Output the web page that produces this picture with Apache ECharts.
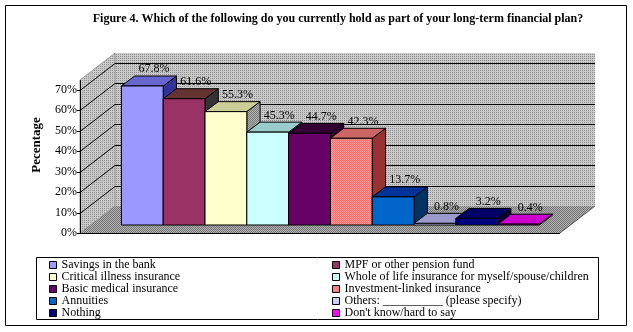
<!DOCTYPE html>
<html>
<head>
<meta charset="utf-8">
<script src="https://cdn.jsdelivr.net/npm/echarts@6/dist/echarts.min.js"></script>
<style>
  html, body { margin: 0; padding: 0; background: #fff; }
  #chart { width: 633px; height: 332px; }
</style>
</head>
<body>
<div id="chart"></div>
<script>
// Survey answers, in bar order
const categories = [
  'Savings in the bank',
  'MPF or other pension fund',
  'Critical illness insurance',
  'Whole of life insurance for myself/spouse/children',
  'Basic medical insurance',
  'Investment-linked insurance',
  'Annuities',
  'Others: __________ (please specify)',
  'Nothing',
  "Don't know/hard to say"
];
// Share of respondents (%)
const values = [67.8, 61.6, 55.3, 45.3, 44.7, 42.3, 13.7, 0.8, 3.2, 0.4];
// Value axis ticks (%)
const yTicks = [0, 10, 20, 30, 40, 50, 60, 70];

const titleText = 'Figure 4. Which of the following do you currently hold as part of your long-term financial plan?';
const yAxisTitle = 'Pecentage';

// Face colours of each 3D column: front, top, right side
const frontColors = ['#9999FF', '#993366', '#FFFFCC', '#CCFFFF', '#660066', '#FF8080', '#0066CC', '#CCCCFF', '#000080', '#FF00FF'];
const topColors   = ['#6666CC', '#663333', '#CCCC99', '#99CCCC', '#330033', '#CC6666', '#003399', '#9999CC', '#000066', '#CC00CC'];
const sideColors  = ['#333399', '#333333', '#999999', '#669999', '#330033', '#993333', '#003366', '#666699', '#000033', '#990099'];

const FONT = '"Liberation Serif", "Times New Roman", serif';

// Pseudo-3D geometry (pixels)
const WALL_DEPTH = [35, -27];   // floor / wall depth offset
const WALL_MARGIN = 31;         // floor overhang beyond the category range
const WALL_TOP = 74.6;          // height of the walls in axis units
const BAR_SHIFT = [10.4, -8];   // columns sit slightly back from the front edge
const BAR_DEPTH = [13.3, -10];  // column depth offset

// Small repeating stipple fills
function stipple(base, dot, checker) {
  const c = document.createElement('canvas');
  c.width = 2; c.height = 2;
  const g = c.getContext('2d');
  g.fillStyle = base; g.fillRect(0, 0, 2, 2);
  g.fillStyle = dot; g.fillRect(0, 0, 1, 1);
  if (checker) g.fillRect(1, 1, 1, 1);
  return { image: c, repeat: 'repeat' };
}
const wallFill = stipple('#CACACA', '#8E8E8E', false);
const floorFill = stipple('#B0B0B0', '#767676', true);
const fillOverrides = {
  front: { 5: stipple('#FF9C9C', '#FF6A6A', true) },
  side: { 2: stipple('#B0B0B0', '#7C7C7C', true) }
};

function renderWalls(params, api) {
  const cs = params.coordSys;
  const y0 = api.coord([0, 0])[1];
  const unit = (y0 - api.coord([0, 70])[1]) / 70;
  const [dx, dy] = WALL_DEPTH;
  const xL = cs.x - WALL_MARGIN;
  const xR = cs.x + cs.width + WALL_MARGIN;
  const yTop = y0 - WALL_TOP * unit;
  const children = [
    { type: 'polygon', shape: { points: [[xL + dx, yTop + dy], [xR + dx, yTop + dy], [xR + dx, y0 + dy], [xL + dx, y0 + dy]] },
      style: { fill: wallFill, stroke: null } },
    { type: 'polygon', shape: { points: [[xL, yTop], [xL + dx, yTop + dy], [xL + dx, y0 + dy], [xL, y0]] },
      style: { fill: wallFill, stroke: '#9A9A9A', lineWidth: 1 } },
    { type: 'polygon', shape: { points: [[xL, y0], [xR, y0], [xR + dx, y0 + dy], [xL + dx, y0 + dy]] },
      style: { fill: floorFill, stroke: null } }
  ];
  yTicks.forEach(v => {
    const y = Math.round(y0 - v * unit) + 0.5;
    if (v > 0) {
      children.push({ type: 'line', shape: { x1: xL + dx, y1: y + dy, x2: xR + dx, y2: y + dy }, style: { stroke: '#000', lineWidth: 1 } });
      children.push({ type: 'line', shape: { x1: xL, y1: y, x2: xL + dx, y2: y + dy }, style: { stroke: '#000', lineWidth: 1 } });
    }
    children.push({ type: 'line', shape: { x1: xL - 3, y1: y, x2: xL, y2: y }, style: { stroke: '#000', lineWidth: 1 } });
  });
  children.push({ type: 'line', shape: { x1: xL + 0.5, y1: yTop, x2: xL + 0.5, y2: y0 }, style: { stroke: '#000', lineWidth: 1 } });
  children.push({ type: 'line', shape: { x1: xL, y1: y0 + 0.5, x2: xR, y2: y0 + 0.5 }, style: { stroke: '#000', lineWidth: 1 } });
  children.push({ type: 'line', shape: { x1: xR, y1: y0, x2: xR + dx, y2: y0 + dy }, style: { stroke: '#555', lineWidth: 1 } });
  return { type: 'group', children };
}

function makeBarRenderer(i) {
  return function (params, api) {
    const idx = api.value(0);
    const v = api.value(1);
    const base = api.coord([idx, 0]);
    const topPt = api.coord([idx, v]);
    const band = api.size([1, 0])[0];
    const [sx, sy] = BAR_SHIFT;
    const [dx, dy] = BAR_DEPTH;
    const x1 = base[0] - band / 2 + sx;
    const x2 = base[0] + band / 2 + sx;
    const yb = base[1] + sy;
    const yt = topPt[1] + sy;
    const edge = { stroke: '#000', lineWidth: 1, lineJoin: 'miter' };
    const front = (fillOverrides.front[i]) || frontColors[i];
    const side = (fillOverrides.side[i]) || sideColors[i];
    return {
      type: 'group',
      children: [
        { type: 'polygon', shape: { points: [[x2, yt], [x2 + dx, yt + dy], [x2 + dx, yb + dy], [x2, yb]] },
          style: Object.assign({ fill: side }, edge) },
        { type: 'polygon', shape: { points: [[x1, yt], [x2, yt], [x2 + dx, yt + dy], [x1 + dx, yt + dy]] },
          style: Object.assign({ fill: topColors[i] }, edge) },
        { type: 'rect', shape: { x: x1, y: yt, width: x2 - x1, height: yb - yt },
          style: Object.assign({ fill: front }, edge) },
        { type: 'text', z2: 100,
          x: (x1 + x2) / 2 + dx / 2 + 5, y: yt + dy / 2 - 11.7,
          style: { text: v.toFixed(1) + '%', fill: '#000', font: '12px ' + FONT,
                   align: 'center', verticalAlign: 'middle', textAlign: 'center', textVerticalAlign: 'middle' } }
      ]
    };
  };
}

const barSeries = categories.map((name, i) => ({
  type: 'custom',
  name: name,
  coordinateSystem: 'cartesian2d',
  data: [[i, values[i]]],
  encode: { x: 0, y: 1 },
  itemStyle: { color: frontColors[i] },
  renderItem: makeBarRenderer(i),
  z: 3
}));

const legendText = { fontFamily: FONT, fontSize: 12, color: '#000', lineHeight: 12, padding: 0 };
const legendBase = {
  orient: 'vertical', top: 259, padding: 0, itemGap: 0,
  itemWidth: 7, itemHeight: 7, icon: 'rect', selectedMode: false,
  itemStyle: { borderColor: '#000', borderWidth: 1 },
  textStyle: legendText
};

const chart = echarts.init(document.getElementById('chart'), null, { renderer: 'canvas' });
chart.setOption({
  animation: false,
  backgroundColor: '#fff',
  grid: { left: 111, top: 89.5, width: 418, height: 143.5, outerBoundsMode: 'none', containLabel: false },
  xAxis: {
    type: 'category', data: categories,
    axisLine: { show: false }, axisTick: { show: false }, axisLabel: { show: false }, splitLine: { show: false }
  },
  yAxis: {
    type: 'value', min: 0, max: 70, interval: 10,
    axisLine: { show: false }, axisTick: { show: false }, splitLine: { show: false },
    axisLabel: { formatter: '{value}%', color: '#000', fontFamily: FONT, fontSize: 12, margin: 34 }
  },
  legend: [
    Object.assign({}, legendBase, { left: 49, data: categories.filter((_, i) => i % 2 === 0) }),
    Object.assign({}, legendBase, { left: 332, data: categories.filter((_, i) => i % 2 === 1) })
  ],
  graphic: [
    { type: 'rect', shape: { x: 5.5, y: 5.5, width: 621, height: 320 }, style: { fill: null, stroke: '#000', lineWidth: 1 }, z: -1 },
    { type: 'rect', shape: { x: 36.5, y: 257.5, width: 562, height: 62 }, style: { fill: null, stroke: '#000', lineWidth: 1 } },
    { type: 'text', x: 338, y: 19,
      style: { text: titleText, font: 'bold 12px ' + FONT, fill: '#000', align: 'center', verticalAlign: 'middle', textAlign: 'center', textVerticalAlign: 'middle' } },
    { type: 'text', x: 37, y: 145, rotation: Math.PI / 2,
      style: { text: yAxisTitle, font: 'bold 13px ' + FONT, fill: '#000', align: 'center', verticalAlign: 'middle', textAlign: 'center', textVerticalAlign: 'middle' } }
  ],
  series: [
    { type: 'custom', name: 'walls', silent: true, coordinateSystem: 'cartesian2d',
      data: [[0, 0]], encode: { x: 0, y: 1 }, renderItem: renderWalls, z: 1 }
  ].concat(barSeries)
});
</script>
</body>
</html>
